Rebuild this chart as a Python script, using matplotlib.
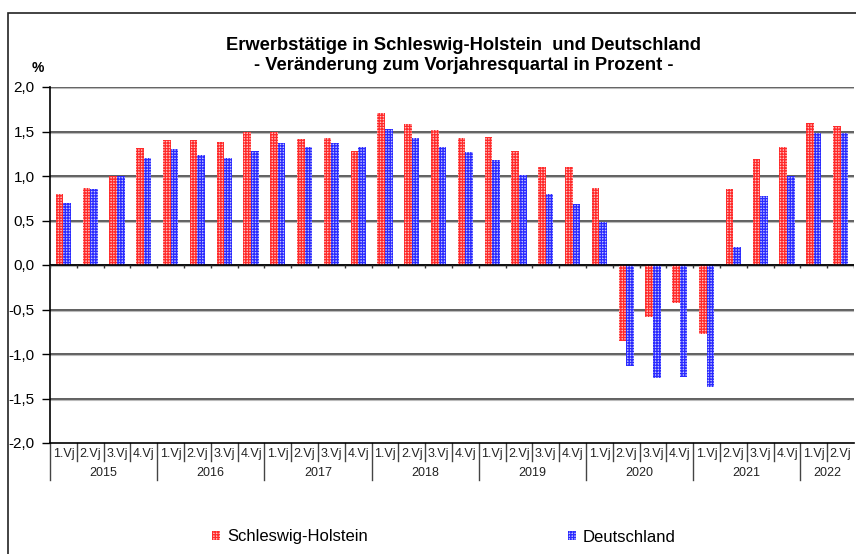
import numpy as np
import matplotlib
matplotlib.use("Agg")
import matplotlib.pyplot as plt
from matplotlib.patches import Rectangle
from matplotlib.lines import Line2D

plt.rcParams['font.family'] = ['Liberation Sans', 'DejaVu Sans']
plt.rcParams['hatch.linewidth'] = 0.9

years = ['2015', '2016', '2017', '2018', '2019', '2020', '2021', '2022']
quarters = ['1.Vj', '2.Vj', '3.Vj', '4.Vj'] * 7 + ['1.Vj', '2.Vj']

# Veraenderung zum Vorjahresquartal in %
sh = [0.80, 0.86, 1.00, 1.31, 1.40, 1.40, 1.38, 1.50,
      1.50, 1.42, 1.43, 1.28, 1.71, 1.58, 1.52, 1.43,
      1.44, 1.28, 1.10, 1.10, 0.87, -0.85, -0.58, -0.43,
      -0.77, 0.85, 1.19, 1.33, 1.60, 1.56]
de = [0.70, 0.85, 1.00, 1.20, 1.30, 1.24, 1.20, 1.28,
      1.37, 1.33, 1.37, 1.33, 1.53, 1.43, 1.33, 1.27,
      1.18, 1.01, 0.80, 0.69, 0.48, -1.14, -1.27, -1.26,
      -1.37, 0.20, 0.78, 1.00, 1.48, 1.48]

W, H = 856, 554
fig = plt.figure(figsize=(W / 100, H / 100), dpi=100)

# outer frame
fig.add_artist(Rectangle((8 / W, -0.1), 1.2, (H - 13) / H + 0.1,
                         transform=fig.transFigure, fill=False,
                         edgecolor='#222222', lw=1.2))

ax = fig.add_axes([50 / W, (H - 443) / H, 804 / W, 356 / H])

n = len(sh)
x = np.arange(n)
bw = 0.28
b1 = ax.bar(x - bw / 2, sh, bw, facecolor='#ffc4c4', edgecolor='#ff2a2a',
            hatch='++++++', lw=0, zorder=3)
b2 = ax.bar(x + bw / 2, de, bw, facecolor='#c4c4ff', edgecolor='#2a2aff',
            hatch='++++++', lw=0, zorder=3)

ax.set_xlim(-0.5, n - 0.5)
ax.set_ylim(-2.0, 2.0)
yt = np.arange(-2.0, 2.01, 0.5)
ax.set_yticks(yt)
ax.set_yticklabels([f'{v:.1f}'.replace('.', ',') for v in yt], fontsize=11)
ax.tick_params(axis='y', length=6, width=1, pad=5)
ax.set_xticks([])
for v in yt:
    if v != -2.0:
        ax.axhline(v, color='#333333', lw=1.1, zorder=1)
        ax.axhline(v - 0.012, color='#bbbbbb', lw=0.8, zorder=1)
ax.axhline(0, color='black', lw=1.2, zorder=4)

for s in ['top', 'right']:
    ax.spines[s].set_visible(False)
ax.spines['left'].set_linewidth(1.2)
ax.spines['bottom'].set_linewidth(1.2)

# small ticks on zero line
ax.vlines(np.arange(n + 1) - 0.5, -0.03, 0, color='#333333', lw=1, zorder=4)

# category axis below
tr = ax.get_xaxis_transform()
for i, q in enumerate(quarters):
    ax.text(i, -0.031, q, transform=tr, ha='center', va='center',
            fontsize=9, color='#222222')
for i in range(1, n):
    yend = -0.104 if i % 4 == 0 else -0.05
    ax.add_line(Line2D([i - 0.5, i - 0.5], [0, yend], transform=tr,
                       color='#444444', lw=1, clip_on=False))
ax.add_line(Line2D([-0.5, -0.5], [0, -0.104], transform=tr,
                   color='#444444', lw=1, clip_on=False))
for k, yr in enumerate(years):
    lo = 4 * k - 0.5
    hi = min(4 * k + 3.5, n - 0.5)
    ax.text((lo + hi) / 2, -0.085, yr, transform=tr, ha='center',
            va='center', fontsize=9, color='#222222')

fig.text(464 / W, 1 - 45 / H, 'Erwerbstätige in Schleswig-Holstein  und Deutschland',
         ha='center', va='center', fontsize=13.2, fontweight='bold')
fig.text(464 / W, 1 - 66 / H, '- Veränderung zum Vorjahresquartal in Prozent -',
         ha='center', va='center', fontsize=13.2, fontweight='bold')
fig.text(38 / W, 1 - 68 / H, '%', ha='center', va='center', fontsize=10,
         fontweight='bold')

fig.legend([b1, b2], ['Schleswig-Holstein', 'Deutschland'], ncol=2,
           loc='center left', bbox_to_anchor=(212 / W, 1 - 537 / H),
           frameon=False, fontsize=12, handlelength=0.5, handleheight=0.5,
           handletextpad=0.4, columnspacing=12.0, borderpad=0,
           borderaxespad=0)

fig.savefig('out.png', dpi=100)
